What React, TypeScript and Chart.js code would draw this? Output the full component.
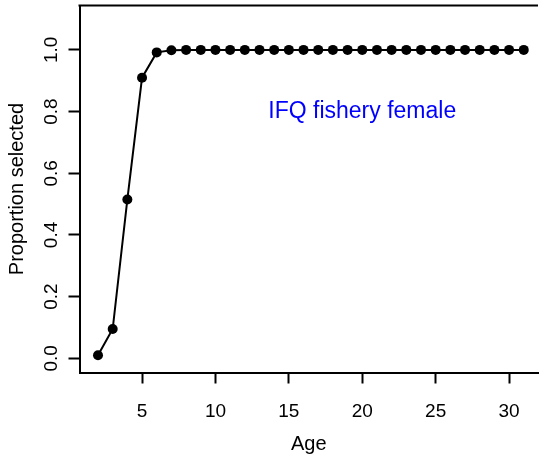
import React, { useEffect, useRef } from "react";
import { Chart, registerables } from "chart.js";

Chart.register(...registerables);

// ---- data ----
const ages: number[] = [2, 3, 4, 5, 6, 7, 8, 9, 10, 11, 12, 13, 14, 15, 16, 17, 18, 19, 20, 21, 22, 23, 24, 25, 26, 27, 28, 29, 30, 31];
const selectivity: number[] = [0.01, 0.095, 0.515, 0.91, 0.992, 0.999, 1, 1, 1, 1, 1, 1, 1, 1, 1, 1, 1, 1, 1, 1, 1, 1, 1, 1, 1, 1, 1, 1, 1, 1];
const xTicks: number[] = [5, 10, 15, 20, 25, 30];
const yTicks: number[] = [0, 0.2, 0.4, 0.6, 0.8, 1.0];
const xTitle = "Age";
const yTitle = "Proportion selected";
const annotationText = "IFQ fishery female";
const annotationAt = { x: 20, y: 0.8 };

const FONT = "'Liberation Sans', Arial, sans-serif";

const framePlugin = {
  id: "frameAndLabel",
  afterDraw(chart: any) {
    const { ctx, chartArea, scales } = chart;
    ctx.save();
    ctx.strokeStyle = "#000";
    ctx.lineWidth = 2;
    ctx.beginPath();
    ctx.moveTo(chartArea.left - 1, chartArea.top);
    ctx.lineTo(chartArea.right, chartArea.top);
    ctx.stroke();
    ctx.fillStyle = "#0000FF";
    ctx.font = `23px ${FONT}`;
    ctx.textAlign = "center";
    ctx.textBaseline = "middle";
    ctx.fillText(
      annotationText,
      scales.x.getPixelForValue(annotationAt.x),
      scales.y.getPixelForValue(annotationAt.y)
    );
    ctx.restore();
  },
};

export default function App() {
  const ref = useRef<HTMLCanvasElement | null>(null);

  useEffect(() => {
    if (!ref.current) return;
    Chart.defaults.font.family = FONT;
    const chart = new Chart(ref.current, {
      type: "line",
      data: {
        datasets: [
          {
            data: ages.map((a, i) => ({ x: a, y: selectivity[i] })),
            borderColor: "#000",
            backgroundColor: "#000",
            borderWidth: 2,
            pointRadius: 5,
            pointBorderWidth: 0,
            pointBackgroundColor: "#000",
            tension: 0,
            fill: false,
          },
        ],
      },
      options: {
        animation: false,
        responsive: false,
        devicePixelRatio: 1,
        layout: { padding: { top: 5.5, right: 0, bottom: 0, left: 0 } },
        plugins: {
          legend: { display: false },
          tooltip: { enabled: false },
        },
        scales: {
          x: {
            type: "linear",
            min: 0.74,
            max: 31.97,
            afterBuildTicks: (s: any) => {
              s.ticks = xTicks.map((v) => ({ value: v }));
            },
            afterFit: (s: any) => {
              s.height = 92.5;
              s.paddingLeft = 0;
              s.paddingRight = 0;
            },
            grid: {
              drawOnChartArea: false,
              drawTicks: true,
              tickLength: 11,
              tickWidth: 2,
              tickColor: "#000",
            },
            border: { display: true, color: "#000", width: 2 },
            ticks: {
              autoSkip: false,
              maxRotation: 0,
              minRotation: 0,
              padding: 16.6,
              color: "#000",
              font: { size: 19, family: FONT },
              callback: (v: any) => String(v),
            },
            title: {
              display: true,
              text: xTitle,
              color: "#000",
              font: { size: 20, family: FONT, lineHeight: 1 },
              padding: { top: 0, bottom: 10.5 },
            },
          },
          y: {
            type: "linear",
            min: -0.046,
            max: 1.144,
            afterBuildTicks: (s: any) => {
              s.ticks = yTicks.map((v) => ({ value: v }));
            },
            afterFit: (s: any) => {
              s.width = 79.5;
              s.paddingTop = 0;
              s.paddingBottom = 0;
            },
            grid: {
              drawOnChartArea: false,
              drawTicks: true,
              tickLength: 11,
              tickWidth: 2,
              tickColor: "#000",
            },
            border: { display: true, color: "#000", width: 2 },
            ticks: {
              autoSkip: false,
              minRotation: 90,
              maxRotation: 90,
              crossAlign: "center",
              padding: 3.6,
              color: "#000",
              font: { size: 19, family: FONT },
              callback: (v: any) => Number(v).toFixed(1),
            },
            title: {
              display: true,
              text: yTitle,
              color: "#000",
              font: { size: 20, family: FONT, lineHeight: 1 },
              padding: { top: 7, bottom: 0 },
            },
          },
        },
      },
      plugins: [framePlugin],
    });
    return () => chart.destroy();
  }, []);

  return (
    <div style={{ position: "absolute", left: 0, top: 0, width: 543, height: 465, background: "#fff" }}>
      <canvas ref={ref} width={543} height={465} style={{ display: "block" }} />
    </div>
  );
}
